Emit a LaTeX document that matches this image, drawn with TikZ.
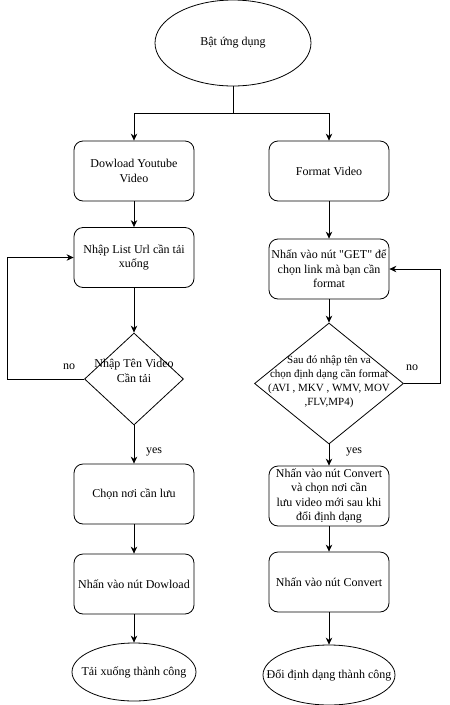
\documentclass[tikz,border=0pt]{standalone}
\usepackage{fontspec}
\setmainfont{Liberation Serif}[Ligatures=TeXOff]
\usetikzlibrary{shapes.geometric,arrows.meta}
\begin{document}
\begin{tikzpicture}[x=1pt,y=-1pt,
  every node/.style={font=\fontsize{12}{14.5}\selectfont},
  box/.style={draw,rectangle,rounded corners=9pt,minimum width=120pt,minimum height=60pt,align=center,inner sep=1pt,line width=0.8pt},
  oval/.style={draw,ellipse,inner sep=0pt,line width=0.8pt},
  dia/.style={draw,diamond,inner sep=0pt,line width=0.8pt},
  txt/.style={align=center,inner sep=0pt},
  arr/.style={-{Stealth[length=7pt,width=6.5pt]},line width=0.8pt}]
\useasboundingbox (0,0) rectangle (450,705);
% nodes
\node[oval,minimum width=156pt,minimum height=86pt] (start) at (233,43) {};
\node[txt] (startt) at (233,43) {Bật ứng dụng};
\node[box] (dl) at (134,171) {Dowload Youtube\\Video};
\node[box] (fv) at (329,171) {Format Video};
\node[box] (l2) at (134,257.5) {Nhập List Url cần tải\\xuống};
\node[dia,minimum width=99pt,minimum height=92pt] (d1) at (134,379) {};
\node[txt] (d1t) at (134,371) {Nhập Tên Video\\Cần tải};
\node[box] (l3) at (134,494) {Chọn nơi cần lưu};
\node[box] (l4) at (134,584) {Nhấn vào nút Dowload};
\node[oval,minimum width=124pt,minimum height=58pt] (l5) at (134,672) {};
\node[txt] (l5t) at (134,672) {Tải xuống thành công};
\node[box] (r2) at (329,269) {Nhấn vào nút "GET" để\\chọn link mà bạn cần\\format};
\node[dia,minimum width=149pt,minimum height=121pt] (d2) at (329,383.5) {};
\node[txt,font=\fontsize{11}{14}\selectfont] (d2t) at (329,382) {Sau đó nhập tên va\\chọn định dạng cần format\\(AVI , MKV , WMV, MOV\\,FLV,MP4)};
\node[box] (r3) at (329,496) {Nhấn vào nút Convert\\và chọn nơi cần\\lưu video mới sau khi\\đổi định dạng};
\node[box] (r4) at (329,582) {Nhấn vào nút Convert};
\node[oval,minimum width=132pt,minimum height=60pt] (r5) at (329,675) {};
\node[txt] (r5t) at (329,675) {Đổi định dạng thành công};
% labels
\node[txt] (no1) at (69,367) {no};
\node[txt] (no2) at (412,368) {no};
\node[txt] (yes1) at (154,452) {yes};
\node[txt] (yes2) at (354,452) {yes};
% connectors
\coordinate (split) at (233,113);
\coordinate (lp) at (7,379);
\coordinate (rp) at (440,383.5);
\draw[line width=0.8pt] (start.south) -- (split);
\draw[arr] (split) -| (dl.north);
\draw[arr] (split) -| (fv.north);
\draw[arr] (dl) -- (l2);
\draw[arr] (l2) -- (d1);
\draw[arr] (d1.west) -- (lp) |- (l2.west);
\draw[arr] (d1) -- (l3);
\draw[arr] (l3) -- (l4);
\draw[arr] (l4) -- (l5);
\draw[arr] (fv) -- (r2);
\draw[arr] (r2) -- (d2);
\draw[arr] (d2.east) -- (rp) |- (r2.east);
\draw[arr] (d2) -- (r3);
\draw[arr] (r3) -- (r4);
\draw[arr] (r4) -- (r5);
\end{tikzpicture}
\end{document}
